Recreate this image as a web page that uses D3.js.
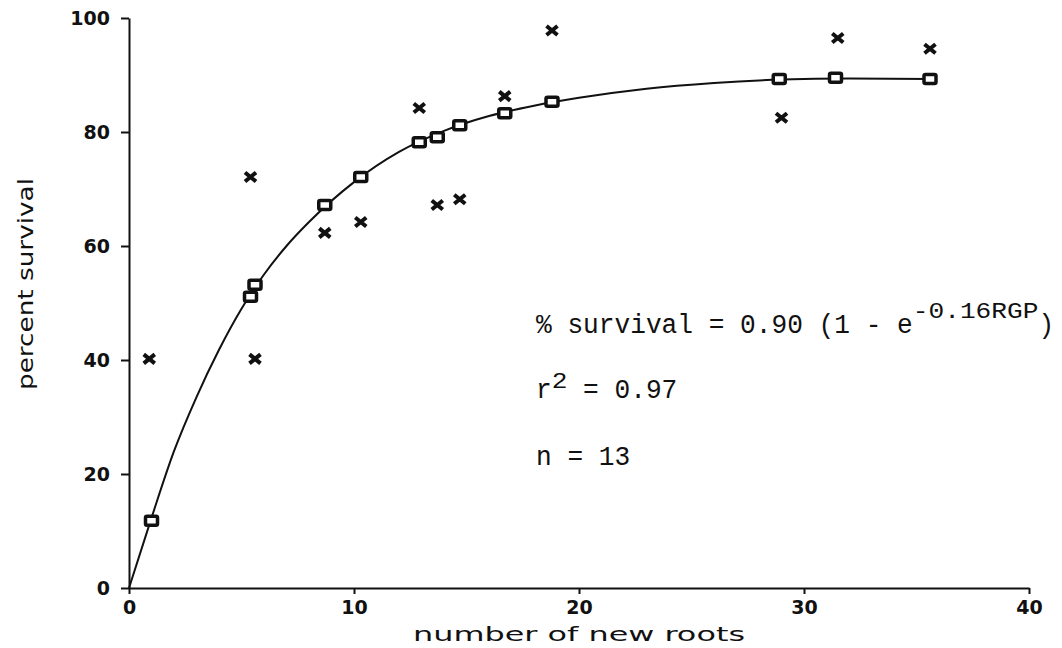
<!DOCTYPE html>
<html>
<head>
<meta charset="utf-8">
<script src="https://cdn.jsdelivr.net/npm/d3@7"></script>
<style>
  body { margin: 0; background: #fff; }
</style>
</head>
<body>
<div id="chart"></div>
<script>
// predicted survival (squares), one per seedlot
const rootsFit = [1.0, 5.4, 5.6, 8.7, 10.3, 12.9, 13.7, 14.7, 16.7, 18.8, 28.9, 31.4, 35.6];
const survivalFit = [11.8, 51.1, 53.2, 67.2, 72.1, 78.2, 79.1, 81.2, 83.3, 85.3, 89.3, 89.5, 89.3];

// observed survival (crosses)
const rootsObs = [0.9, 5.4, 5.6, 8.7, 10.3, 12.9, 13.7, 14.7, 16.7, 18.8, 29.0, 31.5, 35.6];
const survivalObs = [40.2, 72.1, 40.2, 62.3, 64.2, 84.2, 67.2, 68.2, 86.3, 97.8, 82.5, 96.5, 94.6];

// fitted curve
const curveRoots = [0, 1, 2, 3, 4, 5, 6, 7, 8, 10, 12, 14, 16, 18, 20, 23, 26, 29, 32, 35.6];
const curveSurvival = [0, 12.3, 24, 33.5, 41.8, 49.0, 55.0, 60.0, 64.2, 71.2, 76.5, 80.2, 82.8, 84.6, 86.0, 87.6, 88.6, 89.2, 89.4, 89.3];

const xTicks = [0, 10, 20, 30, 40];
const yTicks = [0, 20, 40, 60, 80, 100];

const width = 1062;
const height = 648;
const margin = { top: 18, right: 33, bottom: 60, left: 129 };

const x = d3.scaleLinear().domain([0, 40]).range([margin.left, width - margin.right]);
const y = d3.scaleLinear().domain([0, 100]).range([height - margin.bottom, margin.top]);

const svg = d3
  .create("svg")
  .attr("width", width)
  .attr("height", height)
  .attr("viewBox", [0, 0, width, height]);

const tickFont = "'DejaVu Sans', sans-serif";

// x axis
const gx = svg
  .append("g")
  .attr("transform", `translate(0,${y(0)})`)
  .call(d3.axisBottom(x).tickValues(xTicks).tickSize(6).tickPadding(7).tickSizeOuter(0));

// y axis
const gy = svg
  .append("g")
  .attr("transform", `translate(${x(0)},0)`)
  .call(d3.axisLeft(y).tickValues(yTicks).tickSize(8).tickPadding(11).tickSizeOuter(0));

[gx, gy].forEach((g) => {
  g.select(".domain").attr("stroke", "#111").attr("stroke-width", 2);
  g.selectAll(".tick line").attr("stroke", "#111").attr("stroke-width", 2);
  g.selectAll(".tick text")
    .attr("fill", "#111")
    .attr("font-family", tickFont)
    .attr("font-weight", "bold")
    .attr("font-size", 19);
});

// axis titles
svg
  .append("text")
  .attr("x", x(20))
  .attr("y", 641)
  .attr("text-anchor", "middle")
  .attr("font-family", tickFont)
  .attr("font-size", 20)
  .attr("fill", "#111")
  .attr("textLength", 332)
  .attr("lengthAdjust", "spacingAndGlyphs")
  .text("number of new roots");

svg
  .append("text")
  .attr("transform", `translate(33,284) rotate(-90)`)
  .attr("text-anchor", "middle")
  .attr("font-family", tickFont)
  .attr("font-size", 21)
  .attr("fill", "#111")
  .attr("textLength", 212)
  .attr("lengthAdjust", "spacingAndGlyphs")
  .text("percent survival");

// fitted curve
const line = d3
  .line()
  .x((d, i) => x(curveRoots[i]))
  .y((d) => y(d))
  .curve(d3.curveMonotoneX);

svg
  .append("path")
  .attr("d", line(curveSurvival))
  .attr("fill", "none")
  .attr("stroke", "#111")
  .attr("stroke-width", 2);

// squares
svg
  .append("g")
  .selectAll("rect")
  .data(survivalFit)
  .join("rect")
  .attr("x", (d, i) => x(rootsFit[i]) - 6)
  .attr("y", (d) => y(d) - 4.5)
  .attr("width", 12)
  .attr("height", 9)
  .attr("rx", 1.5)
  .attr("fill", "#fff")
  .attr("stroke", "#111")
  .attr("stroke-width", 3.5);

// crosses
svg
  .append("g")
  .selectAll("path")
  .data(survivalObs)
  .join("path")
  .attr("transform", (d, i) => `translate(${x(rootsObs[i])},${y(d)})`)
  .attr("d", "M-5.5,-4.5L5.5,4.5M-5.5,4.5L5.5,-4.5")
  .attr("stroke", "#111")
  .attr("stroke-width", 4);

// equation block, typewriter grid
const mono = "'Liberation Mono', 'DejaVu Sans Mono', monospace";
const col0 = 536;
const cw = 15.7;

function typed(str, col, base, size) {
  svg
    .append("text")
    .attr("x", col0 + col * cw)
    .attr("y", base)
    .attr("font-family", mono)
    .attr("font-size", size)
    .attr("fill", "#111")
    .attr("textLength", str.length * cw)
    .attr("lengthAdjust", "spacingAndGlyphs")
    .text(str);
}

typed("% survival = 0.90 (1 - e", 0, 333, 27);
typed("-0.16RGP", 24, 318, 22);
typed(")", 32, 333, 27);

typed("r", 0, 398, 27);
typed("2", 1, 388, 22);
typed("= 0.97", 3, 398, 27);

typed("n = 13", 0, 465, 27);

d3.select("#chart").append(() => svg.node());
</script>
</body>
</html>
